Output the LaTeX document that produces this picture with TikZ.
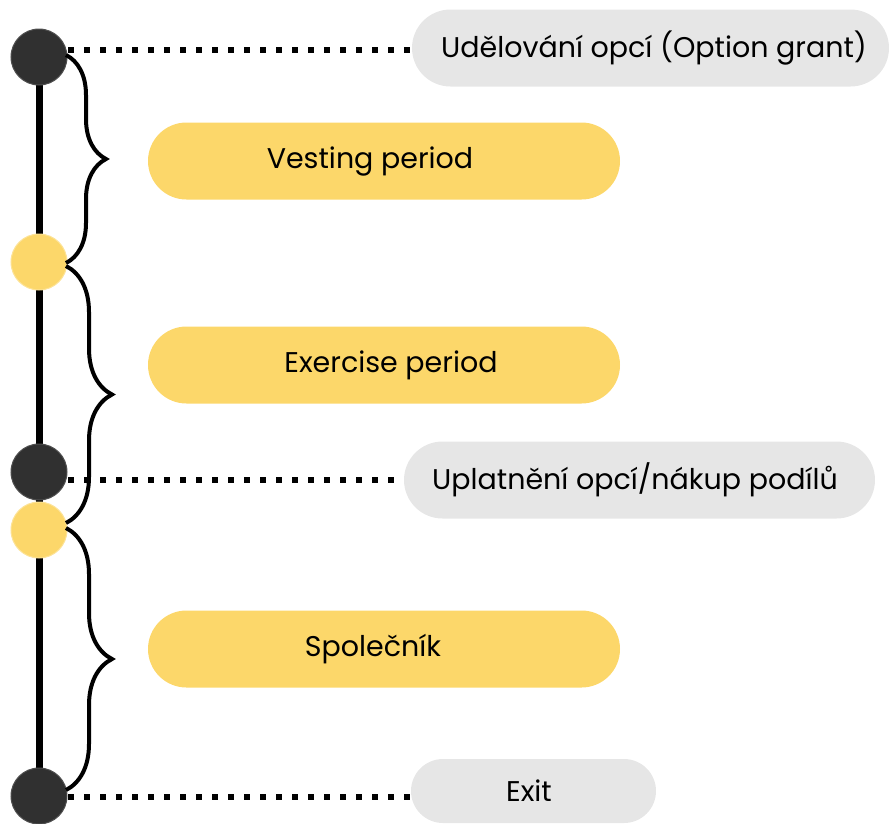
\documentclass[tikz,border=0pt]{standalone}
\usepackage{fontspec}
\setmainfont{Poppins}
\usetikzlibrary{decorations.pathreplacing,shapes.misc}
\definecolor{dark}{HTML}{303030}
\definecolor{yel}{HTML}{FCD76A}
\definecolor{pillgray}{HTML}{E6E6E6}
\tikzset{
  darkdot/.style={circle, fill=dark, draw=dark!85!white, line width=1pt, minimum size=56pt, inner sep=0pt},
  yeldot/.style={circle, fill=yel, draw=yel!70!white, line width=1pt, minimum size=56pt, inner sep=0pt},
  graypill/.style={rounded rectangle, fill=pillgray, minimum height=77pt, inner sep=0pt, font=\fontsize{28.5}{32}\selectfont},
  yelpill/.style={rounded rectangle, fill=yel, minimum height=77pt, minimum width=472pt, inner sep=0pt, font=\fontsize{28.5}{32}\selectfont},
  dotline/.style={line width=6pt, dash pattern=on 6pt off 10pt},
  bracestyle/.style={line width=4pt, decorate, decoration={brace, amplitude=40pt}},
}
\begin{document}
\begin{tikzpicture}[x=1pt,y=-1pt]
\useasboundingbox (0,0) rectangle (889,823);
% timeline
\draw[line width=7pt] (39,57) -- (39,796);
\node[darkdot] (d1) at (39,57) {};
\node[yeldot] (y1) at (39,262) {};
\node[darkdot] (d2) at (39,472) {};
\node[yeldot] (y2) at (39,530) {};
\node[darkdot] (d3) at (39,796) {};
% pills
\node[graypill, minimum width=477pt] (g1) at (650.5,48) {};
\node at (654,48) [font=\fontsize{28.5}{32}\selectfont] (t1) {Udělování opcí (Option grant)};
\node[graypill, minimum width=471pt] (g2) at (639.5,480) {};
\node at (635,480) [font=\fontsize{28.5}{32}\selectfont] (t2) {Uplatnění opcí/nákup podílů};
\node[graypill, minimum width=245pt, minimum height=64pt] (g3) at (533.5,791) {};
\node at (529,791) [font=\fontsize{28.5}{32}\selectfont] (t3) {Exit};
\node[yelpill] (v1) at (384,161) {};
\node at (370,161) [font=\fontsize{28.5}{32}\selectfont] (tv1) {Vesting period};
\node[yelpill] (v2) at (384,365) {};
\node at (391,365) [font=\fontsize{28.5}{32}\selectfont] (tv2) {Exercise period};
\node[yelpill] (v3) at (384,649) {};
\node at (373,649) [font=\fontsize{28.5}{32}\selectfont] (tv3) {Společník};
% dotted connectors
\coordinate (c1) at (68,50);
\coordinate (c2) at (68,480);
\coordinate (c3) at (68,797);
\draw[dotline] (c1) -- (g1.west |- c1);
\draw[dotline] (c2) -- (g2.west |- c2);
\draw[dotline] (c3) -- (g3.west |- c3);
% braces
\coordinate (b1s) at (66,55);
\coordinate (b1e) at (66,263);
\coordinate (b2s) at (66,266);
\coordinate (b2e) at (66,523);
\coordinate (b3s) at (66,528);
\coordinate (b3e) at (66,790);
\draw[bracestyle] (b1s) -- (b1e);
\draw[bracestyle, decoration={brace, amplitude=46pt}] (b2s) -- (b2e);
\draw[bracestyle, decoration={brace, amplitude=46pt}] (b3s) -- (b3e);
\end{tikzpicture}
\end{document}
